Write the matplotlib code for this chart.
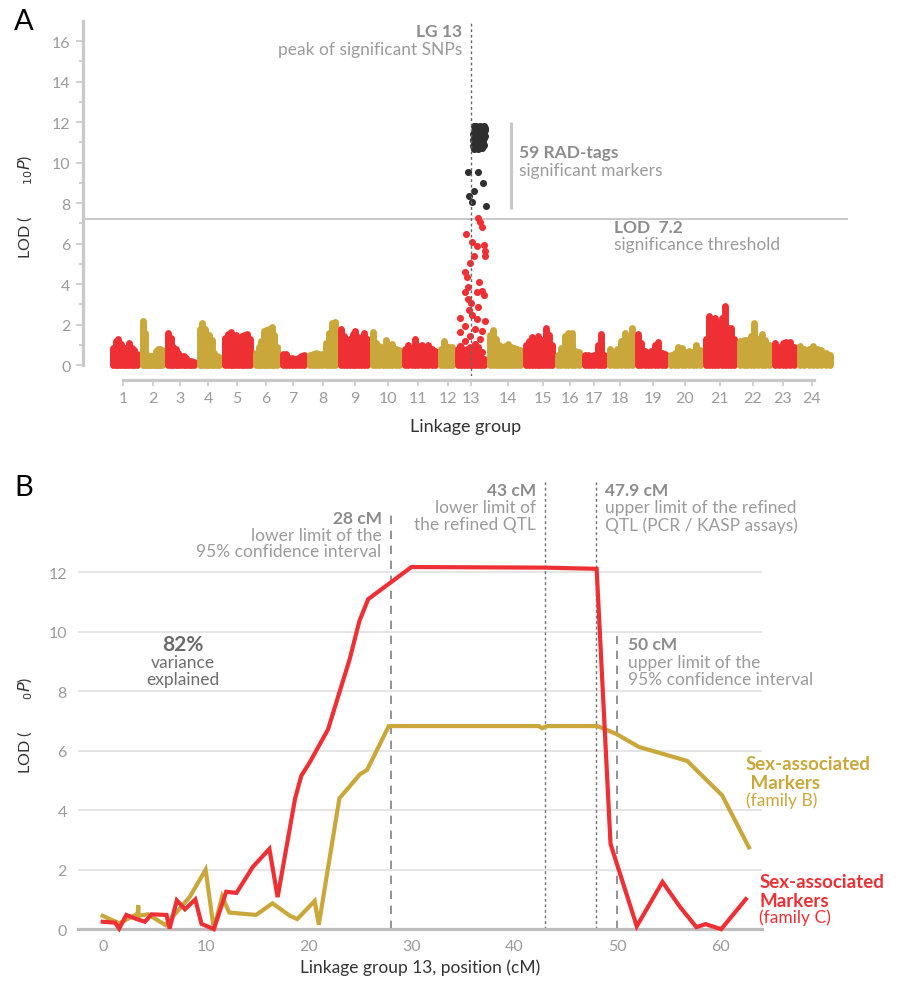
import numpy as np
import matplotlib.pyplot as plt

plt.rcParams['font.family'] = ['Lato', 'DejaVu Sans']

RED = '#ee3035'
GOLD = '#c9a73a'
BLACK_PT = '#2f2f2f'
DARK = '#333333'
GREY_TXT = '#9b9b9b'
GREY_BOLD = '#8c8c8c'
AXIS_GREY = '#c9c9c9'
NOTE_SIZE = 12.5

# ---------------- panel A: genome-wide scan ----------------
lg_names = [str(i) for i in range(1, 25)]
# label position of each linkage group along the concatenated map
lg_ticks = [13, 43, 70, 98, 127, 156, 183, 213, 245, 278, 308, 338,
            361, 398, 433, 460, 484, 510, 543, 575, 610, 643, 673, 702]
# start/end of each linkage group along the concatenated map
lg_bounds = [0, 30, 55, 87, 112, 143, 170, 197, 228, 260, 292, 328, 345,
             377, 413, 445, 472, 497, 525, 558, 593, 627, 662, 687, 723]
# LOD of the highest marker in successive slices of each linkage group
lg_top_lod = [
    [0.85, 1.2, 1.3, 1.05, 0.85, 0.85, 1.1, 0.85, 0.75, 0.55],
    [2.2, 1.6, 0.5, 0.45, 0.45, 0.5, 0.7, 0.8, 0.8, 0.75],
    [1.6, 1.35, 0.9, 0.8, 0.6, 0.45, 0.45, 0.35, 0.2, 0.2, 0.15],
    [1.8, 2.1, 1.8, 1.3, 1.5, 1.25, 0.6, 0.45, 0.4],
    [1.35, 1.55, 1.65, 1.45, 1.5, 1.3, 1.45, 1.5, 1.55, 1.3],
    [0.6, 0.9, 1.2, 1.7, 1.75, 1.8, 1.9, 1.5, 0.9],
    [0.55, 0.55, 0.35, 0.35, 0.3, 0.35, 0.45, 0.5],
    [0.5, 0.55, 0.6, 0.55, 0.55, 1.1, 1.6, 2.1, 2.15],
    [1.8, 1.45, 1.2, 1.3, 1.55, 1.7, 1.4, 1.25, 1.6, 1.3],
    [1.65, 1.1, 0.95, 0.9, 1.25, 1.0, 1.05, 0.8, 0.75],
    [0.8, 1.0, 0.85, 1.3, 0.95, 1.0, 0.9, 1.0, 0.8, 0.7],
    [0.8, 1.2, 0.95, 0.9, 0.9],
    [0.8, 0.9, 0.75, 0.8, 0.9, 0.8, 0.7, 0.75, 0.4, 0.3],
    [1.5, 1.75, 1.3, 1.0, 0.9, 0.95, 1.05, 0.9, 0.85, 0.8, 0.75],
    [1.0, 1.2, 1.4, 1.2, 1.45, 1.3, 1.15, 1.85, 1.5, 1.0],
    [0.5, 0.85, 1.45, 1.6, 1.6, 0.7, 0.65],
    [0.5, 0.5, 0.45, 0.5, 1.0, 1.55, 0.5],
    [0.8, 0.65, 0.8, 1.2, 1.6, 1.2, 1.85],
    [1.55, 1.1, 0.7, 0.6, 0.7, 1.0, 1.15, 0.6, 0.55],
    [0.5, 0.6, 0.9, 0.85, 0.65, 0.7, 0.65, 1.0, 0.75],
    [1.3, 2.4, 1.5, 2.35, 2.05, 2.35, 2.9, 1.85, 1.85, 1.3],
    [1.2, 1.25, 1.25, 1.45, 2.1, 1.3, 1.55, 1.25, 1.0],
    [1.1, 0.9, 1.1, 1.15, 1.15, 0.9],
    [0.95, 0.8, 0.8, 0.95, 0.8, 0.75, 0.6, 0.5],
]

# LG13 markers below the threshold
lg13_pos = [368.3, 370, 371.7, 356, 361.7, 366.7, 374, 375, 375, 364, 360, 355,
            356.7, 369, 358.3, 371.7, 367.3, 355, 358.3, 361, 374, 368.3, 359.3,
            350, 361.7, 366.7, 375, 355, 365, 371.7, 350, 360, 370, 355, 365,
            350, 368.3, 358.3, 371.7, 353.3, 363.3, 370]
lg13_lod = [7.29, 7.05, 6.8, 6.47, 6.09, 5.89, 5.94, 5.65, 5.4, 5.4, 5.02, 4.58,
            4.33, 4.08, 3.84, 3.67, 3.59, 3.59, 3.26, 3.06, 3.46, 2.85, 2.73,
            2.35, 2.47, 2.27, 2.19, 1.94, 1.78, 1.69, 1.61, 1.45, 1.28, 1.2, 1.04,
            0.95, 0.87, 0.7, 0.63, 0.46, 0.38, 0.13]

# the 59 significant RAD-tags
sig_pos = [358.3, 368.3, 373.3, 364, 359, 361.7, 375.7,
           364, 366, 368, 370, 372, 374, 375,
           365, 367, 369, 371, 373, 375,
           364, 366, 368, 370, 372, 374,
           363, 365, 367, 369, 371, 373, 375,
           364, 366, 368, 370, 372, 374,
           363, 365, 367, 369, 371, 373,
           364, 366, 368, 370, 372, 374,
           363, 365, 369, 371, 373,
           364, 368, 372]
sig_lod = [9.55, 9.55, 8.99, 8.6, 8.36, 8.07, 7.87,
           11.8, 11.82, 11.78, 11.8, 11.76, 11.8, 11.72,
           11.66, 11.7, 11.62, 11.68, 11.65, 11.6,
           11.52, 11.55, 11.5, 11.56, 11.48, 11.54,
           11.4, 11.36, 11.42, 11.38, 11.35, 11.4, 11.3,
           11.25, 11.2, 11.28, 11.22, 11.18, 11.24,
           11.1, 11.05, 11.12, 11.08, 11.02, 11.06,
           10.95, 10.92, 10.98, 10.9, 10.94, 10.88,
           10.82, 10.78, 10.8, 10.76, 10.84,
           10.7, 10.68, 10.72]

threshold = 7.2
rad_bar = (7.7, 12.0)

# ---------------- panel B: LG13 interval mapping ----------------
famC_cm = [0.0, 1.2, 1.6, 2.3, 3.3, 4.1, 4.75, 6.2, 6.5, 7.2, 8.0, 9.0, 9.6,
           10.8, 12.0, 13.0, 14.6, 16.2, 17.0, 18.7, 19.3, 20.1, 21.9, 22.85,
           24.0, 24.95, 25.8, 30.0, 43.0, 48.0, 49.35, 51.9, 54.4, 56.1, 57.7,
           58.6, 60.1, 62.5]
famC_lod = [0.25, 0.22, 0.02, 0.48, 0.34, 0.25, 0.5, 0.48, 0.02, 0.97, 0.67,
            1.0, 0.18, 0.0, 1.26, 1.22, 2.1, 2.7, 1.08, 4.4, 5.16, 5.6, 6.72,
            7.79, 9.08, 10.37, 11.1, 12.18, 12.16, 12.12, 2.87, 0.1, 1.59, 0.75,
            0.07, 0.17, 0.0, 1.01]
famB_cm = [0.0, 1.6, 3.3, 3.4, 3.45, 3.5, 4.4, 6.1, 8.45, 10.0, 10.8, 11.6,
           12.3, 14.9, 16.5, 18.2, 18.9, 20.6, 21.0, 23.0, 25.0, 25.7, 27.8,
           42.4, 42.7, 43.2, 48.1, 49.9, 52.1, 56.8, 60.2, 62.8]
famB_lod = [0.45, 0.2, 0.5, 0.45, 0.8, 0.45, 0.5, 0.14, 1.08, 2.0, 0.0, 1.1,
            0.56, 0.48, 0.87, 0.45, 0.34, 0.95, 0.15, 4.4, 5.21, 5.36, 6.83,
            6.83, 6.76, 6.83, 6.83, 6.57, 6.13, 5.66, 4.5, 2.75]

ci_low, ci_high = 28, 50
qtl_low, qtl_high = 43, 47.9

W, H = 903, 987
fig = plt.figure(figsize=(W / 100, H / 100), dpi=100)


def add_axes_px(left, top, right, bottom):
    return fig.add_axes([left / W, 1 - bottom / H, (right - left) / W, (bottom - top) / H])


# ======== A ========
ax = add_axes_px(83, 22, 848, 377)
ax.set_xlim(-27, 738)
ax.set_ylim(-0.54, 17)

for i, tops in enumerate(lg_top_lod):
    col = RED if i % 2 == 0 else GOLD
    xs = np.linspace(lg_bounds[i] + 3, lg_bounds[i + 1] - 3, len(tops))
    ax.vlines(xs, 0, tops, colors=col, linewidth=5, capstyle='round', zorder=2)

ax.scatter(lg13_pos, lg13_lod, s=26, color=RED, linewidths=0, zorder=3)
ax.scatter(sig_pos, sig_lod, s=26, color=BLACK_PT, linewidths=0, zorder=3)

ax.axhline(threshold, color='#c4c4c4', lw=1.3, zorder=1)
ax.axvline(lg_ticks[12], color='#666666', lw=1.0, ls=(0, (2, 2)), zorder=4)
ax.plot([lg_ticks[12] + 40] * 2, rad_bar, color='#c8c8c8', lw=2.3, solid_capstyle='butt')

for s in ['top', 'right']:
    ax.spines[s].set_visible(False)
ax.spines['left'].set_bounds(0, 17)
ax.spines['left'].set_color(AXIS_GREY)
ax.spines['left'].set_linewidth(2.3)
ax.spines['bottom'].set_position(('outward', 3))
ax.spines['bottom'].set_bounds(lg_ticks[0], lg_ticks[-1] + 2)
ax.spines['bottom'].set_color(AXIS_GREY)
ax.spines['bottom'].set_linewidth(2.3)

ax.set_yticks(np.arange(0, 17, 2))
ax.set_yticks(np.arange(1, 17, 2), minor=True)
ax.set_xticks(lg_ticks)
ax.set_xticklabels(lg_names)
ax.tick_params(axis='both', which='both', direction='out', color=AXIS_GREY,
               labelcolor=GREY_TXT, labelsize=11.5, width=1.2)
ax.tick_params(axis='y', which='major', length=5, pad=4)
ax.tick_params(axis='y', which='minor', length=3)
ax.tick_params(axis='x', length=4, pad=4)

ax.set_xlabel('Linkage group', fontsize=13, color=DARK, labelpad=9)

ax.text(lg_ticks[12] - 9, 16.5, 'LG 13', ha='right', va='center',
        fontsize=NOTE_SIZE, fontweight='bold', color=GREY_BOLD)
ax.text(lg_ticks[12] - 9, 15.6, 'peak of significant SNPs', ha='right', va='center',
        fontsize=NOTE_SIZE, color=GREY_TXT)
ax.text(409, 10.52, '59 RAD-tags', ha='left', va='center',
        fontsize=NOTE_SIZE, fontweight='bold', color=GREY_BOLD)
ax.text(409, 9.63, 'significant markers', ha='left', va='center',
        fontsize=NOTE_SIZE, color=GREY_TXT)
ax.text(504, 6.81, 'LOD  7.2', ha='left', va='center',
        fontsize=NOTE_SIZE, fontweight='bold', color=GREY_BOLD)
ax.text(504, 5.98, 'significance threshold', ha='left', va='center',
        fontsize=NOTE_SIZE, color=GREY_TXT)

fig.text(25 / W, 1 - 207 / H, 'LOD (        ${}_{10}P$)', rotation=90,
         ha='center', va='center', fontsize=11.5, color=DARK)
fig.text(14 / W, 1 - 22 / H, 'A', fontsize=21, ha='left', va='center', color='black')

# ======== B ========
bx = add_axes_px(78, 483, 762, 930.2)
bx.set_xlim(-2.4, 64.07)
bx.set_ylim(0, 15.04)

for v in range(2, 13, 2):
    bx.axhline(v, color='#e0e0e0', lw=1.2, zorder=0)

bx.vlines([ci_low], 0, 14.12, colors='#808080', lw=1.2, linestyles=[(0, (5, 4))], zorder=1)
bx.vlines([ci_high], 0, 9.86, colors='#808080', lw=1.2, linestyles=[(0, (5, 4))], zorder=1)
bx.vlines([qtl_low, qtl_high], 0, 15.03, colors='#707070', lw=1.0,
          linestyles=[(0, (2, 2))], zorder=1)

bx.plot(famB_cm, famB_lod, color=GOLD, lw=3, zorder=3, clip_on=False,
        solid_joinstyle='miter')
bx.plot(famC_cm, famC_lod, color=RED, lw=3, zorder=4, clip_on=False,
        solid_joinstyle='miter')

for s in ['top', 'right', 'left']:
    bx.spines[s].set_visible(False)
bx.spines['bottom'].set_color('#bdbdbd')
bx.spines['bottom'].set_linewidth(2.3)
bx.spines['bottom'].set_zorder(2)

bx.set_yticks(np.arange(0, 13, 2))
bx.set_xticks(np.arange(0, 61, 10))
bx.tick_params(axis='both', length=0, labelcolor=GREY_TXT, labelsize=11.5)
bx.tick_params(axis='y', pad=8)
bx.tick_params(axis='x', pad=7)
bx.set_xlabel('Linkage group 13, position (cM)', fontsize=12.5, color=DARK, labelpad=4)


def note(x, y, head, lines, ha, dy=0.56):
    bx.text(x, y, head, ha=ha, va='center', fontsize=NOTE_SIZE,
            fontweight='bold', color=GREY_BOLD)
    for k, ln in enumerate(lines):
        bx.text(x, y - dy * (k + 1), ln, ha=ha, va='center', fontsize=NOTE_SIZE, color=GREY_TXT)


note(ci_low - 0.9, 13.82, '28 cM', ['lower limit of the', '95% confidence interval'], 'right', 0.55)
note(qtl_low - 0.9, 14.76, '43 cM', ['lower limit of', 'the refined QTL'], 'right', 0.57)
note(qtl_high + 0.9, 14.76, '47.9 cM', ['upper limit of the refined', 'QTL (PCR / KASP assays)'], 'left', 0.57)
note(ci_high + 1.0, 9.59, '50 cM', ['upper limit of the', '95% confidence interval'], 'left', 0.59)

bx.text(7.8, 9.59, '82%', ha='center', va='center', fontsize=15,
        fontweight='bold', color='#6a6a6a')
bx.text(7.8, 8.98, 'variance', ha='center', va='center', fontsize=NOTE_SIZE, color='#6e6e6e')
bx.text(7.8, 8.41, 'explained', ha='center', va='center', fontsize=NOTE_SIZE, color='#6e6e6e')

bx.text(62.5, 5.56, 'Sex-associated', ha='left', va='center', fontsize=13.5,
        fontweight='bold', color=GOLD)
bx.text(62.5, 4.95, ' Markers', ha='left', va='center', fontsize=13.5,
        fontweight='bold', color=GOLD)
bx.text(62.5, 4.35, '(family B)', ha='left', va='center', fontsize=12.5, color=GOLD)
bx.text(63.8, 1.59, 'Sex-associated', ha='left', va='center', fontsize=13.5,
        fontweight='bold', color=RED)
bx.text(63.8, 0.95, 'Markers', ha='left', va='center', fontsize=13.5,
        fontweight='bold', color=RED)
bx.text(63.8, 0.41, '(family C)', ha='left', va='center', fontsize=12.5, color=RED)

fig.text(25 / W, 1 - 725 / H, 'LOD (        ${}_{0}P$)', rotation=90,
         ha='center', va='center', fontsize=11.5, color=DARK)
fig.text(14 / W, 1 - 488 / H, 'B', fontsize=21, ha='left', va='center', color='black')

fig.savefig('out.png', dpi=100)
